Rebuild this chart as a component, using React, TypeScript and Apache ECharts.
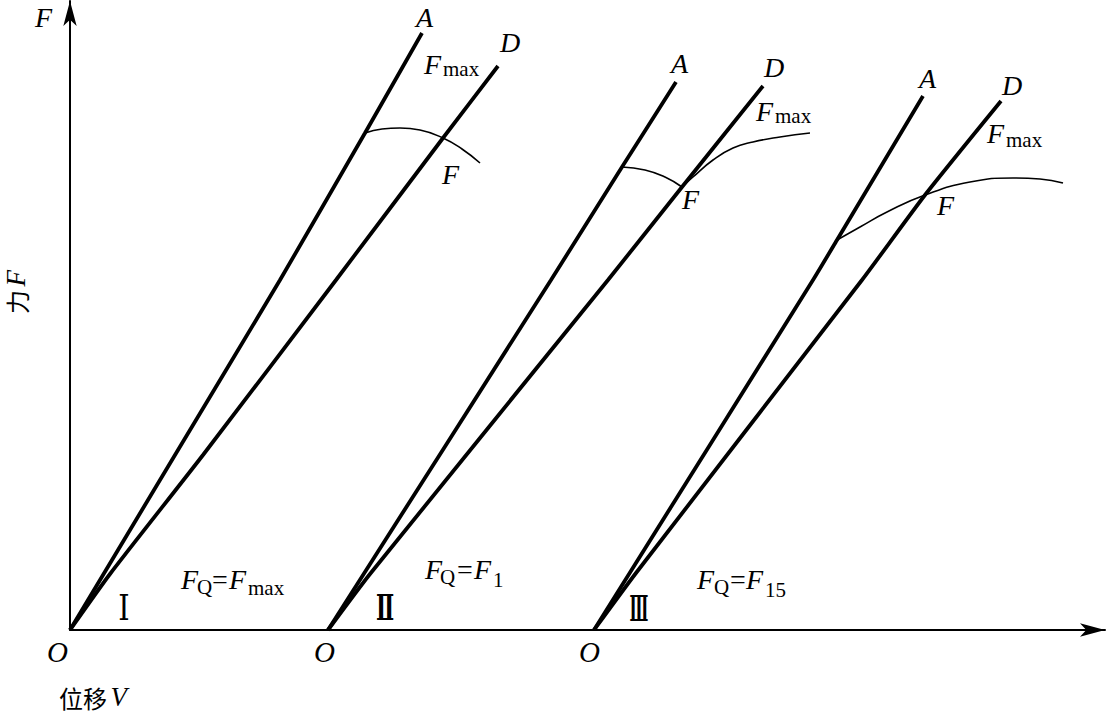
import React, { useEffect, useRef } from "react";
import * as echarts from "echarts";

// Data in chart units (displacement V along x, force F along y)
const curveIA = [[0, 0], [108, 180], [210, 350], [295, 497], [352, 597]];
const curveID = [[0, 0], [40, 56], [133, 175], [266, 350], [373, 492], [428, 564]];
const curveIF = [[295, 497], [312, 501], [330, 502], [350, 500], [373, 492], [392, 481], [410, 467]];

const curveIIA = [[258, 0], [481, 350], [552, 463], [606, 548]];
const curveIID = [[258, 0], [300, 56], [538, 350], [612, 443], [693, 544]];
const curveIIF1 = [[552, 463], [575, 460], [595, 453], [612, 443]];
const curveIIF2 = [[612, 443], [623, 453], [643, 470], [663, 482], [683, 488], [710, 493], [740, 497]];

const curveIIIA = [[524, 0], [743, 350], [767, 390], [853, 534]];
const curveIIID = [[524, 0], [566, 57], [792, 350], [855, 435], [931, 529]];
const curveIIIF = [[767, 390], [790, 403], [817, 418], [855, 435], [900, 448], [943, 452], [970, 451], [993, 447]];

const xMax = 1035;
const yMax = 629;

const serif = "'Liberation Serif', 'Times New Roman', serif";
const cjk = "'Noto Sans CJK SC', sans-serif";

const MAIN = 28;
const SUB = 21;

function T(text: string, x: number, base: number, size: number, italic = true) {
  return {
    type: "text",
    x,
    y: base - 0.34 * size,
    silent: true,
    style: {
      text,
      fontSize: size,
      fontFamily: serif,
      fontStyle: italic ? "italic" : "normal",
      fill: "#000",
      textAlign: "left",
      textVerticalAlign: "middle",
      align: "left",
      verticalAlign: "middle",
    },
  };
}
function R(text: string, x: number, base: number, size: number) {
  return T(text, x, base, size, false);
}
function Num(text: string, cx: number, cy: number, sx: number, weight: string) {
  return {
    type: "text",
    x: cx,
    y: cy,
    scaleX: sx,
    silent: true,
    style: {
      text,
      fontSize: 36,
      fontWeight: weight,
      fontFamily: "'DejaVu Serif', serif",
      fill: "#000",
      textAlign: "center",
      textVerticalAlign: "middle",
      align: "center",
      verticalAlign: "middle",
    },
  };
}

function lineSeries(data: number[][], width: number, smooth: number | boolean) {
  return {
    type: "line",
    data,
    symbol: "none",
    showSymbol: false,
    smooth,
    silent: true,
    lineStyle: { color: "#000", width },
  };
}

export default function App() {
  const ref = useRef<HTMLDivElement>(null);
  useEffect(() => {
    const chart = echarts.init(ref.current!, null, { renderer: "svg" });
    const richLabel = {
      c: { fontFamily: cjk, fontSize: 24, fill: "#000" },
      i: { fontFamily: serif, fontStyle: "italic", fontSize: 27, fill: "#000" },
    };
    chart.setOption({
      animation: false,
      backgroundColor: "#fff",
      grid: { left: 70, right: 3, top: 1, bottom: 88 },
      xAxis: {
        type: "value",
        min: 0,
        max: xMax,
        axisLine: {
          show: true,
          symbol: ["none", "arrow"],
          symbolSize: [10, 25],
          lineStyle: { color: "#000", width: 2 },
        },
        axisTick: { show: false },
        axisLabel: { show: false },
        splitLine: { show: false },
      },
      yAxis: {
        type: "value",
        min: 0,
        max: yMax,
        axisLine: {
          show: true,
          symbol: ["none", "arrow"],
          symbolSize: [10, 25],
          lineStyle: { color: "#000", width: 2 },
        },
        axisTick: { show: false },
        axisLabel: { show: false },
        splitLine: { show: false },
      },
      series: [
        lineSeries(curveIA, 3.8, 0.2),
        lineSeries(curveID, 3.8, 0.2),
        lineSeries(curveIF, 1.6, 0.5),
        lineSeries(curveIIA, 3.8, 0.2),
        lineSeries(curveIID, 3.8, 0.2),
        lineSeries(curveIIF1, 1.6, 0.5),
        lineSeries(curveIIF2, 1.6, 0.5),
        lineSeries(curveIIIA, 3.8, 0.2),
        lineSeries(curveIIID, 3.8, 0.2),
        lineSeries(curveIIIF, 1.6, 0.5),
      ],
      graphic: [
        T("F", 35, 27, MAIN),
        // group I
        T("A", 416, 27, MAIN),
        T("D", 500, 52, MAIN),
        T("F", 424, 74, MAIN),
        R("max", 443, 76, SUB),
        T("F", 442, 184, MAIN),
        // group II
        T("A", 671, 73, MAIN),
        T("D", 764, 77, MAIN),
        T("F", 756, 121, MAIN),
        R("max", 775, 123, SUB),
        T("F", 682, 209, MAIN),
        // group III
        T("A", 919, 88, MAIN),
        T("D", 1002, 95, MAIN),
        T("F", 987, 143, MAIN),
        R("max", 1006, 147, SUB),
        T("F", 937, 215, MAIN),
        // origins
        T("O", 47, 662, 29),
        T("O", 314, 662, 29),
        T("O", 579, 662, 29),
        // roman numerals
        Num("Ⅰ", 124, 608, 0.8, "normal"),
        Num("Ⅱ", 385, 607, 0.6, "bold"),
        Num("Ⅲ", 639, 609, 0.43, "bold"),
        // FQ=Fmax
        T("F", 181, 589, MAIN),
        R("Q", 197, 594, SUB),
        R("=", 212, 589, MAIN),
        T("F", 229, 589, MAIN),
        R("max", 248, 595, SUB),
        // FQ=F1
        T("F", 425, 579, MAIN),
        R("Q", 440, 584, SUB),
        R("=", 457, 579, MAIN),
        T("F", 474, 579, MAIN),
        R("1", 493, 587, SUB),
        // FQ=F15
        T("F", 697, 589, MAIN),
        R("Q", 714, 594, SUB),
        R("=", 730, 589, MAIN),
        T("F", 746, 589, MAIN),
        R("15", 765, 597, SUB),
        // axis titles
        {
          type: "text",
          x: 16,
          y: 292,
          rotation: Math.PI / 2,
          silent: true,
          style: {
            text: "{c|力} {i|F}",
            rich: richLabel,
            textAlign: "center",
            textVerticalAlign: "middle",
            align: "center",
            verticalAlign: "middle",
          },
        },
        {
          type: "text",
          x: 93,
          y: 697,
          silent: true,
          style: {
            text: "{c|位移} {i|V}",
            rich: richLabel,
            textAlign: "center",
            textVerticalAlign: "middle",
            align: "center",
            verticalAlign: "middle",
          },
        },
      ],
    });
    return () => chart.dispose();
  }, []);
  return (
    <div
      ref={ref}
      style={{ position: "fixed", left: 0, top: 0, width: 1108, height: 718, background: "#fff" }}
    />
  );
}
